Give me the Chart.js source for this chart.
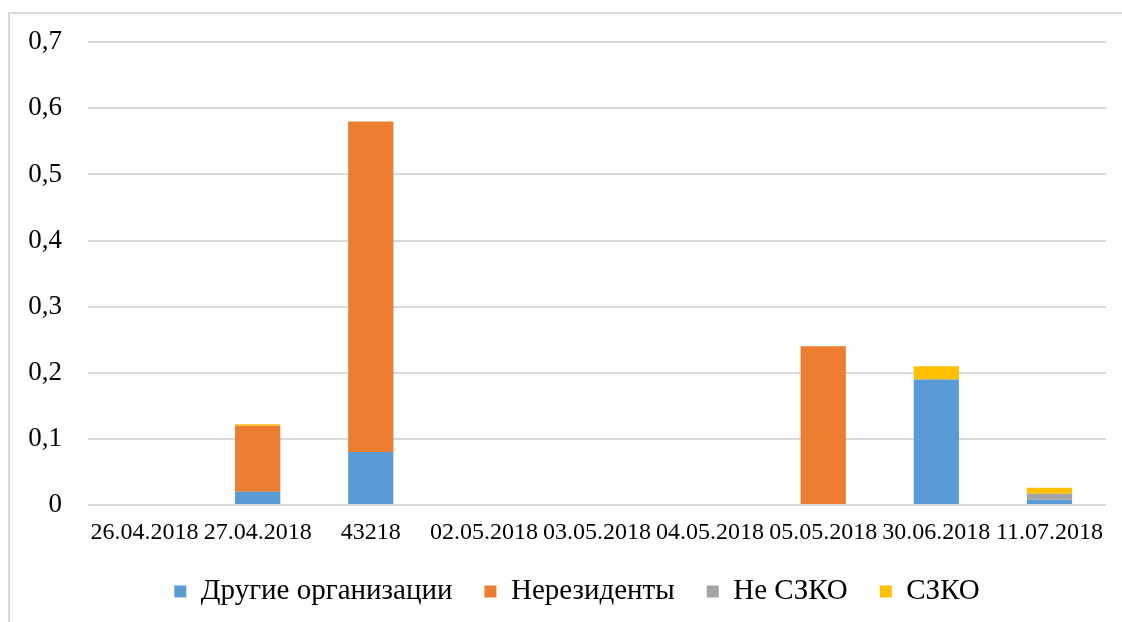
<!DOCTYPE html>
<html>
<head>
<meta charset="utf-8">
<script src="https://cdn.jsdelivr.net/npm/chart.js@4.4.1/dist/chart.umd.min.js"></script>
<style>
  html, body { margin: 0; padding: 0; background: #fff; overflow: hidden; }
  #frame { position: absolute; left: 8px; top: 12px; width: 1300px; height: 800px; border: 2px solid #d9d9d9; }
  #wrap { position: absolute; left: 0; top: 0; width: 1122px; height: 622px; }
</style>
</head>
<body>
<div id="frame"></div>
<div id="wrap"><canvas id="chart"></canvas></div>
<script>
// dates as they appear on the axis (one of them came out as a raw serial number)
const categories = ['26.04.2018', '27.04.2018', '43218', '02.05.2018', '03.05.2018', '04.05.2018', '05.05.2018', '30.06.2018', '11.07.2018'];
const otherOrgs = [0, 0.02, 0.08, 0, 0, 0, 0, 0.19, 0.008];
const nonResidents = [0, 0.10, 0.50, 0, 0, 0, 0.24, 0, 0];
const notSzko = [0, 0, 0, 0, 0, 0, 0, 0, 0.009];
const szko = [0, 0.002, 0, 0, 0, 0, 0, 0.02, 0.009];
const yTicks = [0, 0.1, 0.2, 0.3, 0.4, 0.5, 0.6, 0.7];

const serif = 'Liberation Serif, Times New Roman, serif';
const barShare = 0.4;

function ds(label, data, color) {
  return { label, data, backgroundColor: color, borderWidth: 0, barPercentage: 1, categoryPercentage: barShare };
}

// legend in the original is centred a bit right of the canvas middle
const legendShift = {
  id: 'legendShift',
  beforeDraw(chart) {
    if (chart.legend) chart.legend.left = 48;
  }
};

new Chart(document.getElementById('chart'), {
  type: 'bar',
  data: {
    labels: categories,
    datasets: [
      ds('Другие организации', otherOrgs, '#5b9bd5'),
      ds('Нерезиденты', nonResidents, '#ed7d31'),
      ds('Не СЗКО', notSzko, '#a5a5a5'),
      ds('СЗКО', szko, '#ffc000')
    ]
  },
  plugins: [legendShift],
  options: {
    responsive: true,
    maintainAspectRatio: false,
    animation: false,
    layout: { padding: { top: 42, right: 16, left: 0, bottom: 6 } },
    plugins: {
      tooltip: { enabled: false },
      legend: {
        position: 'bottom',
        labels: {
          font: { family: serif, size: 29 },
          color: '#000',
          boxWidth: 12,
          boxHeight: 12,
          padding: 32
        }
      }
    },
    scales: {
      x: {
        stacked: true,
        grid: { display: false },
        border: { display: false },
        ticks: {
          color: '#000',
          font: { family: serif, size: 24 },
          autoSkip: false,
          maxRotation: 0,
          minRotation: 0,
          padding: 5
        },
        afterFit: (s) => { s.height = 40; }
      },
      y: {
        stacked: true,
        min: 0,
        max: 0.7,
        afterBuildTicks: (s) => { s.ticks = yTicks.map(v => ({ value: v })); },
        grid: { color: '#d9d9d9', lineWidth: 2, drawTicks: false },
        border: { display: false },
        ticks: {
          color: '#000',
          font: { family: serif, size: 27 },
          padding: 26,
          callback: (v) => String(Math.round(v * 10) / 10).replace('.', ',')
        },
        afterFit: (s) => { s.width = 88; }
      }
    }
  }
});
</script>
</body>
</html>
